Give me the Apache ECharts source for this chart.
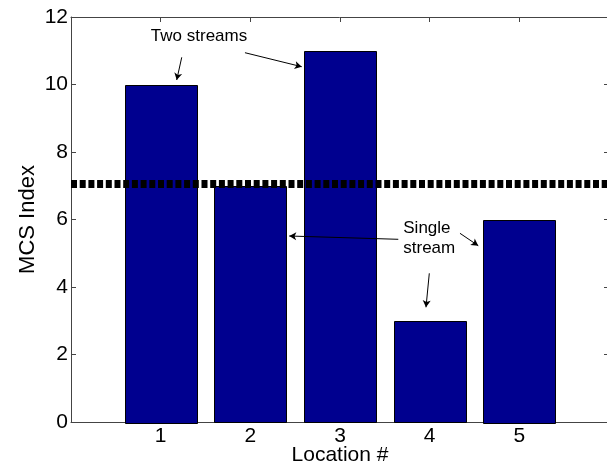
<!DOCTYPE html>
<html>
<head>
<meta charset="utf-8">
<script src="https://cdn.jsdelivr.net/npm/echarts@6/dist/echarts.min.js"></script>
<style>
html,body{margin:0;padding:0;background:#fff;}
#c{width:607px;height:466px;}
</style>
</head>
<body>
<div id="c"></div>
<script>
// Data
const locations = [1, 2, 3, 4, 5];
const mcsIndex = [10, 7, 11, 3, 6];
const thresholdValue = 7.05;
const xRange = [0, 6];
const yTicks = [0, 2, 4, 6, 8, 10, 12];

// Annotations (data coordinates)
const annotationTexts = [
  { text: 'Two streams', at: [1.428, 11.42], pos: 'inside' },
  { text: 'Single\nstream', at: [3.70, 5.45], pos: 'right' }
];
const arrows = [
  [[1.235, 10.806], [1.179, 10.133]],
  [[1.940, 10.942], [2.573, 10.527]],
  [[3.650, 5.413], [2.434, 5.511]],
  [[3.996, 4.406], [3.959, 3.399]],
  [[4.338, 5.591], [4.542, 5.224]]
];

const FONT = '"Liberation Sans", Arial, Helvetica, sans-serif';
const barData = locations.map((x, i) => [x, mcsIndex[i]]);

const chart = echarts.init(document.getElementById('c'), null, { renderer: 'canvas' });

const axisLineStyle = { color: '#444', width: 1 };

chart.setOption({
  animation: false,
  backgroundColor: '#fff',
  grid: { left: 71, top: 17, right: -2, bottom: 44, containLabel: false, outerBoundsMode: 'none' },
  xAxis: [
    {
      type: 'value', min: xRange[0], max: xRange[1], interval: 1, position: 'bottom',
      name: 'Location #', nameLocation: 'middle', nameGap: 23, nameMoveOverlap: false,
      nameTextStyle: { fontFamily: FONT, fontSize: 21, color: '#000' },
      axisLine: { show: true, onZero: false, lineStyle: axisLineStyle },
      axisTick: { show: true, inside: true, length: 5, lineStyle: axisLineStyle },
      axisLabel: {
        fontFamily: FONT, fontSize: 21, color: '#000', margin: 4,
        formatter: v => (locations.indexOf(v) >= 0 ? String(v) : '')
      },
      splitLine: { show: false }
    },
    {
      type: 'value', min: xRange[0], max: xRange[1], interval: 1, position: 'top',
      axisLine: { show: true, onZero: false, lineStyle: axisLineStyle },
      axisTick: { show: true, inside: true, length: 5, lineStyle: axisLineStyle },
      axisLabel: { show: false },
      splitLine: { show: false }
    }
  ],
  yAxis: [
    {
      type: 'value', min: yTicks[0], max: yTicks[yTicks.length - 1], interval: 2, position: 'left',
      name: 'MCS Index', nameLocation: 'middle', nameGap: 32, nameMoveOverlap: false,
      nameTextStyle: { fontFamily: FONT, fontSize: 22, color: '#000' },
      axisLine: { show: true, onZero: false, lineStyle: axisLineStyle },
      axisTick: { show: true, inside: true, length: 5, lineStyle: axisLineStyle },
      axisLabel: { fontFamily: FONT, fontSize: 21, color: '#000', margin: 3 },
      splitLine: { show: false }
    },
    {
      type: 'value', min: yTicks[0], max: yTicks[yTicks.length - 1], interval: 2, position: 'right',
      axisLine: { show: true, onZero: false, lineStyle: axisLineStyle },
      axisTick: { show: true, inside: true, length: 5, lineStyle: axisLineStyle },
      axisLabel: { show: false },
      splitLine: { show: false }
    }
  ],
  series: [
    {
      type: 'custom',
      xAxisIndex: 0, yAxisIndex: 0,
      data: barData,
      z: 2,
      renderItem: function (params, api) {
        const x = api.value(0), y = api.value(1);
        const p0 = api.coord([x - 0.4, y]);
        const p1 = api.coord([x + 0.4, 0]);
        return {
          type: 'rect',
          shape: { x: Math.round(p0[0]) + 0.5, y: Math.round(p0[1]) + 0.5,
                   width: Math.round(p1[0] - p0[0]), height: Math.round(p1[1] - p0[1]) },
          style: { fill: '#00008F', stroke: '#000', lineWidth: 1 }
        };
      }
    },
    {
      type: 'line',
      xAxisIndex: 0, yAxisIndex: 0,
      data: [[xRange[0], thresholdValue], [xRange[1], thresholdValue]],
      symbol: 'none',
      z: 5,
      lineStyle: { color: '#000', width: 8, type: [6, 2.7], cap: 'butt' },
      markLine: {
        silent: true,
        symbol: ['none', 'arrow'],
        symbolSize: [6, 7],
        label: { show: false },
        lineStyle: { color: '#000', width: 1, type: 'solid' },
        data: arrows.map(a => [{ coord: a[0] }, { coord: a[1] }])
      },
      markPoint: {
        silent: true,
        symbol: 'rect',
        symbolSize: [1, 1],
        itemStyle: { color: 'rgba(0,0,0,0)' },
        data: annotationTexts.map(t => ({
          coord: t.at,
          label: {
            show: true, position: t.pos, distance: 0,
            formatter: t.text, align: t.pos === 'right' ? 'left' : 'center',
            fontFamily: FONT, fontSize: 17, lineHeight: 20, color: '#000'
          }
        }))
      }
    }
  ]
});
</script>
</body>
</html>
